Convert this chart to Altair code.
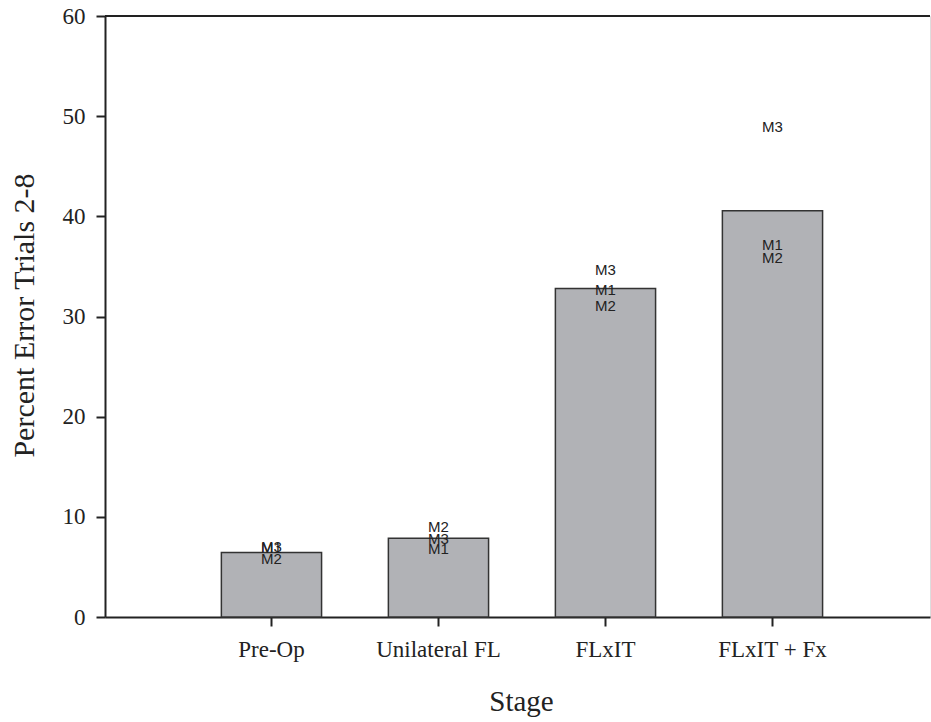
import altair as alt
import pandas as pd

# Percent error (trials 2-8) by surgical stage
stages = ["Pre-Op", "Unilateral FL", "FLxIT", "FLxIT + Fx"]
mean_error = [6.45, 7.85, 32.8, 40.55]

# Individual subjects
m1 = [6.9, 6.8, 32.6, 37.1]
m2 = [5.8, 9.0, 31.0, 35.8]
m3 = [6.95, 7.8, 34.6, 48.9]

bars_df = pd.DataFrame({"Stage": stages, "Error": mean_error})
# M1 is drawn last so it sits on top where labels collide
labels_df = pd.DataFrame(
    {
        "Stage": stages * 3,
        "Error": m3 + m2 + m1,
        "Subject": ["M3"] * 4 + ["M2"] * 4 + ["M1"] * 4,
    }
)

serif = "Liberation Serif"
ink = "#222222"

x_enc = alt.X(
    "Stage:N",
    sort=stages,
    title="Stage",
    scale=alt.Scale(paddingInner=0.4, paddingOuter=0.67, align=0.52),
    axis=alt.Axis(
        labelAngle=0,
        labelFont=serif,
        labelFontSize=23,
        labelColor=ink,
        labelPadding=12,
        tickSize=9,
        tickColor=ink,
        tickWidth=2,
        domainColor=ink,
        domainWidth=2,
        titleFont=serif,
        titleFontSize=29,
        titleFontWeight="normal",
        titleColor=ink,
        titleX=416,
        titleY=93,
        titleBaseline="alphabetic",
    ),
)

y_scale = alt.Scale(domain=[0, 60], nice=False)

bars = (
    alt.Chart(bars_df)
    .mark_bar(color="#b1b2b6", stroke="#333333", strokeWidth=1.5)
    .encode(
        x=x_enc,
        y=alt.Y(
            "Error:Q",
            scale=y_scale,
            title="Percent Error Trials 2-8",
            axis=alt.Axis(
                values=[0, 10, 20, 30, 40, 50, 60],
                grid=False,
                labelFont=serif,
                labelFontSize=23,
                labelColor=ink,
                labelPadding=11,
                tickSize=9,
                tickColor=ink,
                tickWidth=2,
                domainColor=ink,
                domainWidth=2,
                titleFont=serif,
                titleFontSize=30,
                titleFontWeight="normal",
                titleColor=ink,
                titleX=-72,
                titleY=299,
                titleBaseline="alphabetic",
            ),
        ),
    )
)

labels = (
    alt.Chart(labels_df)
    .mark_text(font="Liberation Sans", fontSize=15, color=ink, baseline="middle")
    .encode(
        x=alt.X("Stage:N", sort=stages),
        y=alt.Y("Error:Q", scale=y_scale),
        text="Subject:N",
    )
)

top_line = (
    alt.Chart(pd.DataFrame({"v": [60]}))
    .mark_rule(color=ink, strokeWidth=2)
    .encode(y=alt.Y("v:Q", scale=y_scale))
)

chart = (
    alt.layer(bars, labels, top_line)
    .properties(
        width=825,
        height=601,
        autosize=alt.AutoSizeParams(type="none"),
        padding={"left": 105, "top": 16, "right": 1, "bottom": 105},
    )
    .configure_view(stroke=None)
    .configure(background="white")
)

chart.save("out.html", embed_options={"renderer": "svg", "actions": False})
